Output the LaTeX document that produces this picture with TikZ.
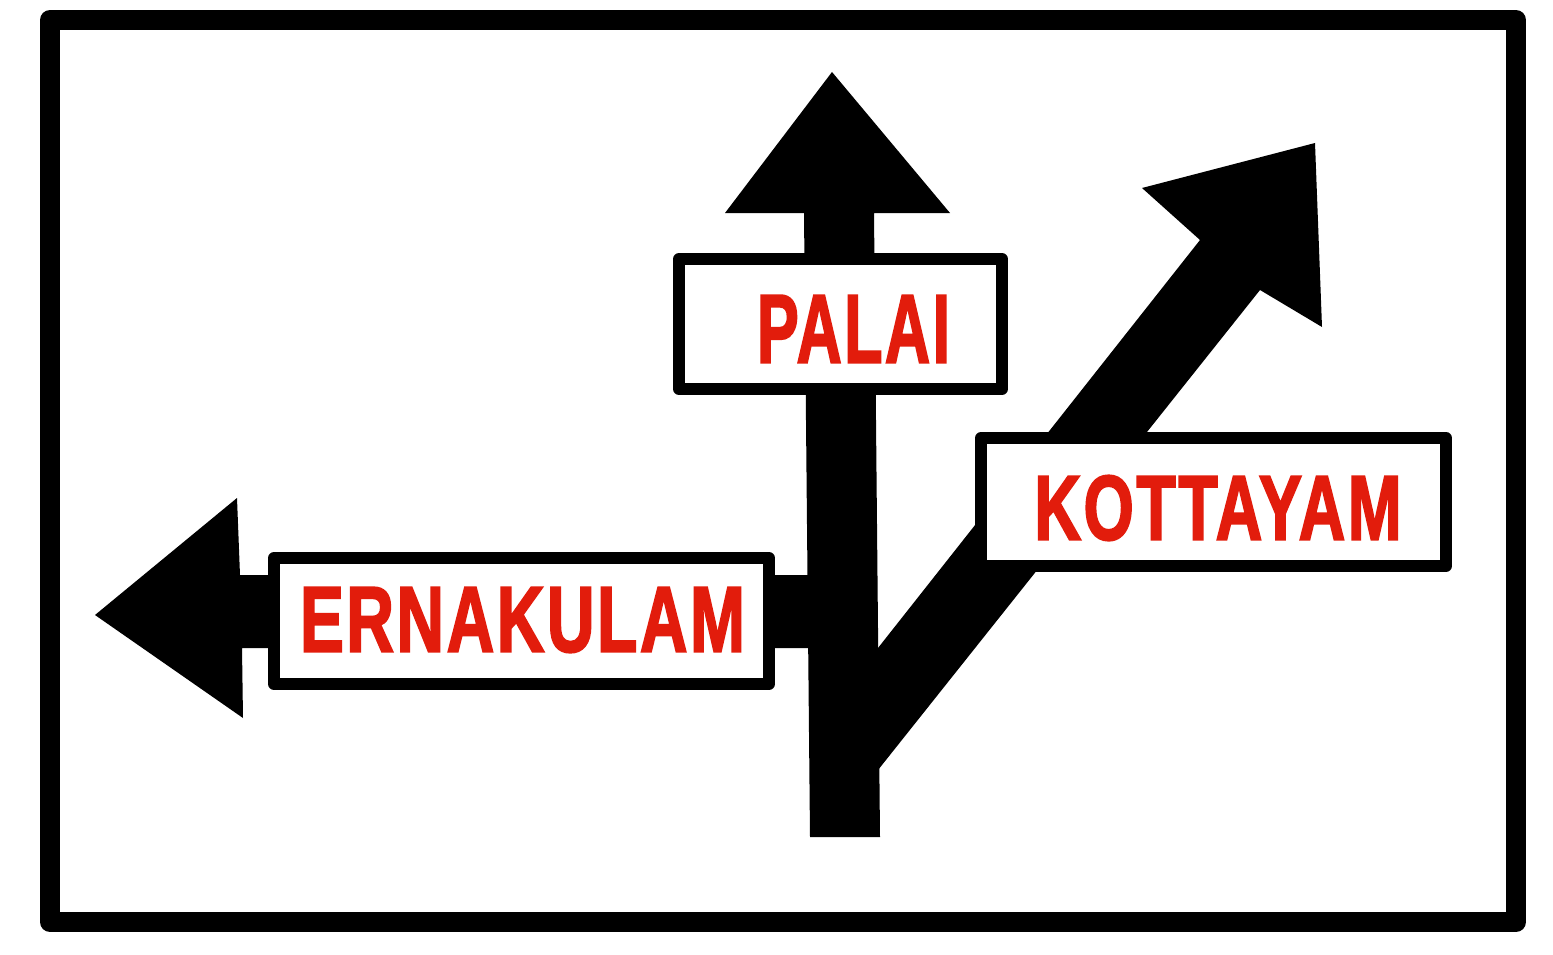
\documentclass[tikz,border=0pt]{standalone}
\usepackage{fontspec}
\setmainfont{Liberation Sans}
\newfontfamily\signfont[FakeBold=2.5,LetterSpace=4]{Liberation Sans Bold}
\definecolor{signred}{RGB}{226,28,12}
\newcommand\signword[3]{\resizebox{#1pt}{#2pt}{\signfont #3}}
\begin{document}
\begin{tikzpicture}[x=1pt,y=-1pt,
  ink/.style={fill=black},
  signbox/.style={draw=black,line width=12pt,line join=round,fill=white,inner sep=0pt},
  signtext/.style={text=signred,inner sep=0pt},
  frame/.style={draw=black,line width=20pt,line join=round}]
\useasboundingbox (0,0) rectangle (1553,955);
\fill[white] (0,0) rectangle (1553,955);
% outer frame
\draw[frame] (50,20) rectangle (1516,922);
% straight-ahead arrow (stem and head)
\fill[ink] (810,837) -- (880,837) -- (874,213) -- (950,213) -- (832,72) -- (725,213) -- (804,213) -- cycle;
% diagonal arrow to the right
\fill[ink] (878,648) -- (1200,240) -- (1142,188) -- (1315,143) -- (1322,327) -- (1260,290) -- (878,770) -- cycle;
% left arrow
\fill[ink] (95,615) -- (237,498) -- (240,575) -- (812,575) -- (812,648) -- (242,648) -- (243,718) -- cycle;
% sign boxes
\node[signbox, minimum width=323pt, minimum height=130pt] (palaibox) at (840.5,324) {};
\node[signbox, minimum width=465pt, minimum height=128pt] (kottayambox) at (1213.5,502) {};
\node[signbox, minimum width=495pt, minimum height=126pt] (ernakulambox) at (521.5,621) {};
% texts
\node[signtext] (palai) at (853.5,329) {\signword{193}{67}{PALAI}};
\node[signtext] (kottayam) at (1218,508) {\signword{367}{64}{KOTTAYAM}};
\node[signtext] (ernakulam) at (522.5,620) {\signword{445}{64}{ERNAKULAM}};
\end{tikzpicture}
\end{document}
